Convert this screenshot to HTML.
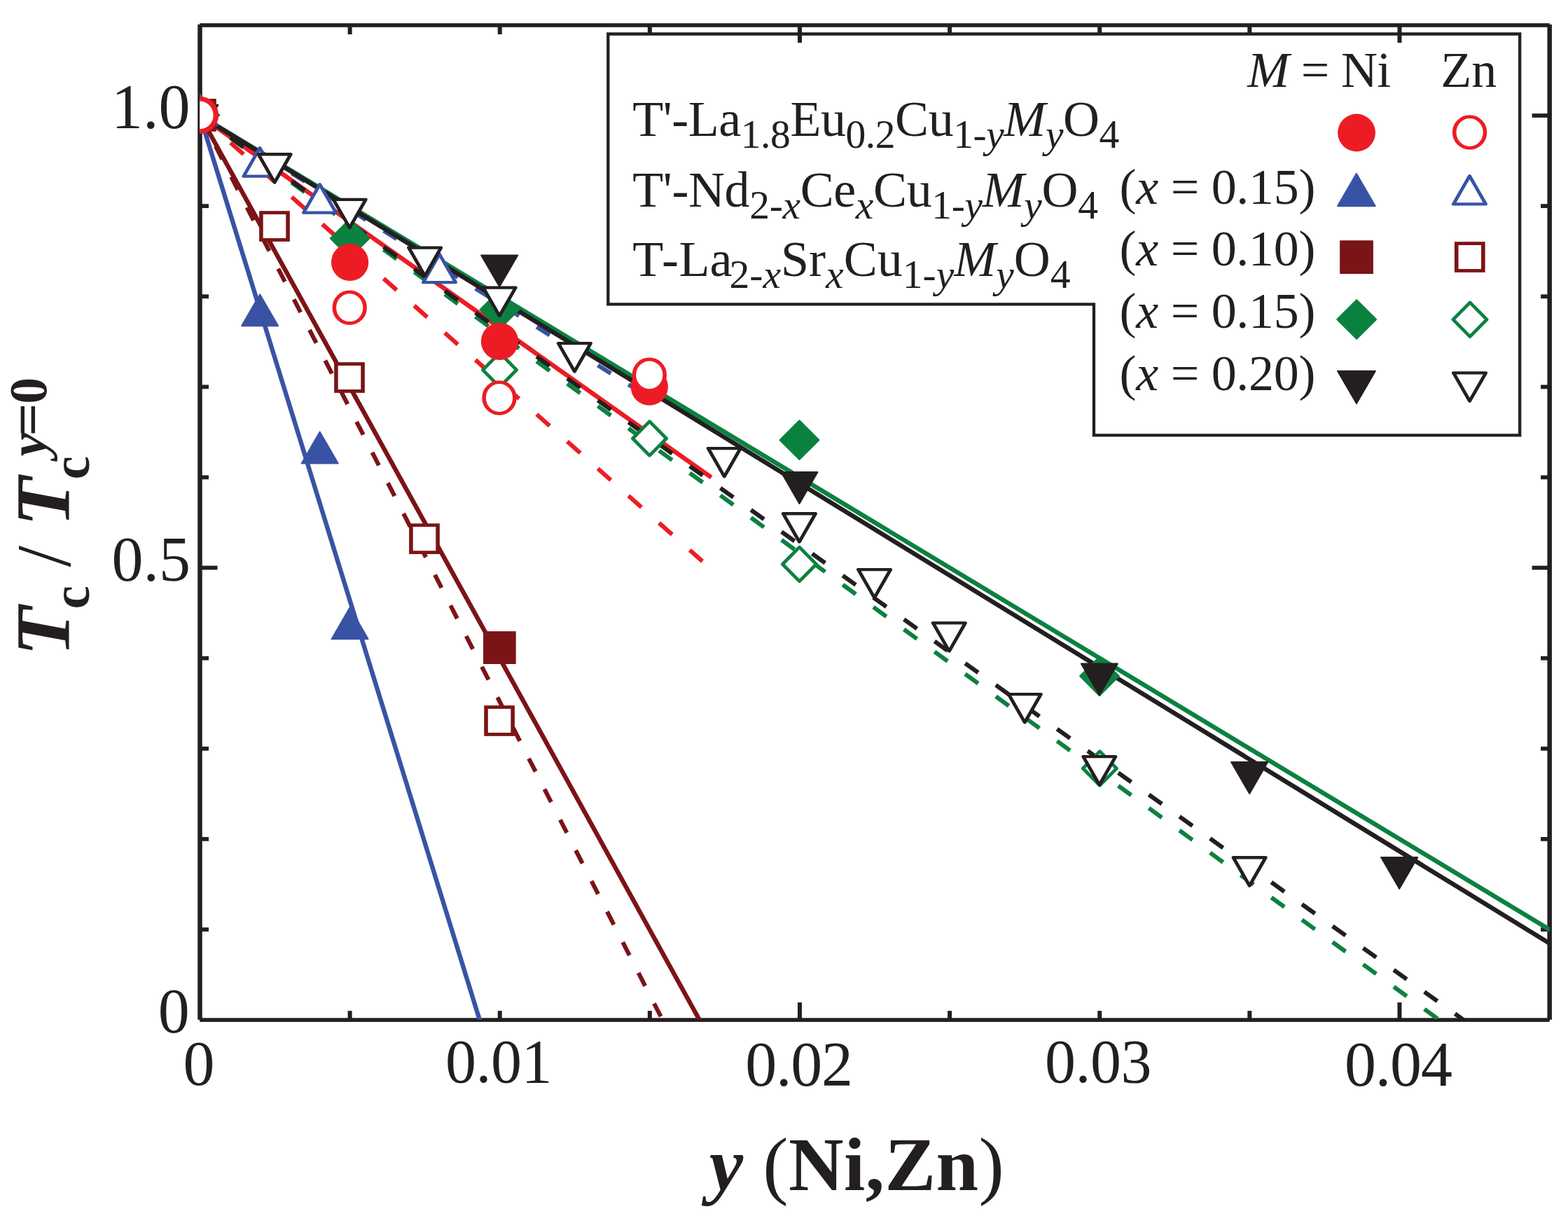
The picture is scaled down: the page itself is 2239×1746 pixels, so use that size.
<!DOCTYPE html>
<html lang="en"><head><meta charset="utf-8"><title>Tc / Tc(y=0) vs y (Ni,Zn)</title>
<style>html,body{margin:0;padding:0;background:#fff}svg{display:block}text{font-family:"Liberation Serif","Times New Roman",Times,serif;fill:#231f20}.tk{font-size:90px}.lg{font-size:72px}.ax{font-size:109px;font-weight:bold}.i{font-style:italic}.b{font-weight:bold}.n{font-weight:normal;font-style:normal}</style></head><body>
<svg width="2239" height="1746" viewBox="0 0 2239 1746">
<rect width="2239" height="1746" fill="#fff"/>
<defs><clipPath id="cp"><rect x="285.2" y="36.0" width="1927.6" height="1419.7"/></clipPath></defs>
<path d="M868.3 48.5H2170.2V621.4H1562V434.4H868.3Z" fill="none" stroke="#231f20" stroke-width="4.3" stroke-linejoin="miter"/>
<g id="frame">
<rect x="282.25" y="35.00" width="6.50" height="1420.80" fill="#231f20"/>
<rect x="2209.45" y="35.00" width="6.50" height="1420.80" fill="#231f20"/>
<rect x="285.20" y="33.20" width="1927.60" height="5.60" fill="#231f20"/>
<rect x="285.20" y="1453.30" width="1927.60" height="5.60" fill="#231f20"/>
<rect x="496.62" y="1443.10" width="6.00" height="13.00" fill="#231f20"/>
<rect x="496.62" y="36.00" width="6.00" height="13.00" fill="#231f20"/>
<rect x="710.74" y="1443.10" width="6.00" height="13.00" fill="#231f20"/>
<rect x="710.74" y="36.00" width="6.00" height="13.00" fill="#231f20"/>
<rect x="924.87" y="1443.10" width="6.00" height="13.00" fill="#231f20"/>
<rect x="924.87" y="36.00" width="6.00" height="13.00" fill="#231f20"/>
<rect x="1138.99" y="1431.10" width="6.00" height="25.00" fill="#231f20"/>
<rect x="1138.99" y="36.00" width="6.00" height="25.00" fill="#231f20"/>
<rect x="1353.11" y="1443.10" width="6.00" height="13.00" fill="#231f20"/>
<rect x="1353.11" y="36.00" width="6.00" height="13.00" fill="#231f20"/>
<rect x="1567.23" y="1443.10" width="6.00" height="13.00" fill="#231f20"/>
<rect x="1567.23" y="36.00" width="6.00" height="13.00" fill="#231f20"/>
<rect x="1781.36" y="1443.10" width="6.00" height="13.00" fill="#231f20"/>
<rect x="1781.36" y="36.00" width="6.00" height="13.00" fill="#231f20"/>
<rect x="1995.48" y="1431.10" width="6.00" height="25.00" fill="#231f20"/>
<rect x="1995.48" y="36.00" width="6.00" height="25.00" fill="#231f20"/>
<rect x="285.50" y="1324.09" width="12.50" height="5.80" fill="#231f20"/>
<rect x="2200.10" y="1324.09" width="12.50" height="5.80" fill="#231f20"/>
<rect x="285.50" y="1194.98" width="12.50" height="5.80" fill="#231f20"/>
<rect x="2200.10" y="1194.98" width="12.50" height="5.80" fill="#231f20"/>
<rect x="285.50" y="1065.87" width="12.50" height="5.80" fill="#231f20"/>
<rect x="2200.10" y="1065.87" width="12.50" height="5.80" fill="#231f20"/>
<rect x="285.50" y="936.76" width="12.50" height="5.80" fill="#231f20"/>
<rect x="2200.10" y="936.76" width="12.50" height="5.80" fill="#231f20"/>
<rect x="285.50" y="807.65" width="25.00" height="5.80" fill="#231f20"/>
<rect x="2187.60" y="807.65" width="25.00" height="5.80" fill="#231f20"/>
<rect x="285.50" y="678.54" width="12.50" height="5.80" fill="#231f20"/>
<rect x="2200.10" y="678.54" width="12.50" height="5.80" fill="#231f20"/>
<rect x="285.50" y="549.43" width="12.50" height="5.80" fill="#231f20"/>
<rect x="2200.10" y="549.43" width="12.50" height="5.80" fill="#231f20"/>
<rect x="285.50" y="420.32" width="12.50" height="5.80" fill="#231f20"/>
<rect x="2200.10" y="420.32" width="12.50" height="5.80" fill="#231f20"/>
<rect x="285.50" y="291.21" width="12.50" height="5.80" fill="#231f20"/>
<rect x="2200.10" y="291.21" width="12.50" height="5.80" fill="#231f20"/>
<rect x="285.50" y="162.10" width="25.00" height="5.80" fill="#231f20"/>
<rect x="2187.60" y="162.10" width="25.00" height="5.80" fill="#231f20"/>
</g>
<g id="lines" clip-path="url(#cp)" fill="none" stroke-linecap="butt">
<line x1="285.5" y1="165.0" x2="1015.7" y2="681.6" stroke="#ed1c24" stroke-width="6.4"/>
<path d="M285.5 165.0L304.1 181.5M329.2 203.8L347.8 220.3M372.9 242.5L391.5 259.0M416.6 281.3L435.2 297.8M460.3 320.1L478.9 336.6M504.1 358.9L522.6 375.4M547.8 397.6L566.4 414.1M591.5 436.4L610.1 452.9M635.2 475.2L653.8 491.7M678.9 513.9L697.5 530.4M722.6 552.7L741.2 569.2M766.3 591.5L784.9 608.0M810.0 630.2L828.6 646.7M853.7 669.0L872.3 685.5M897.4 707.8L916.0 724.3M941.1 746.6L959.8 763.1M984.9 785.3L1003.0 801.4" stroke="#ed1c24" stroke-width="6.1"/>
<line x1="285.4" y1="165.0" x2="687.9" y2="1465.8" stroke="#3953a4" stroke-width="6.4"/>
<path d="M285.5 165.0L304.1 176.7M329.2 192.4L347.8 204.1M372.9 219.8L391.5 231.5M416.6 247.3L435.2 258.9M460.3 274.7L478.9 286.3M504.1 302.1L522.6 313.8M547.8 329.5L566.4 341.2M591.5 356.9L610.1 368.6M635.2 384.4L653.8 396.0M678.9 411.8L697.5 423.4M722.6 439.2L741.2 450.9M766.3 466.6L784.9 478.3M810.0 494.0L828.6 505.7M853.7 521.5L872.3 533.1M897.4 548.9L916.0 560.5" stroke="#3953a4" stroke-width="6.1"/>
<line x1="285.5" y1="165.0" x2="1001.8" y2="1461.5" stroke="#7b1416" stroke-width="6.4"/>
<path d="M285.5 165.0L295.0 183.6M307.9 208.7L317.4 227.3M330.2 252.4L339.7 271.0M352.6 296.1L362.1 314.7M375.0 339.8L384.5 358.4M397.3 383.6L406.8 402.2M419.7 427.3L429.2 445.9M442.0 471.0L451.6 489.6M464.4 514.7L473.9 533.3M486.8 558.4L496.3 577.0M509.1 602.1L518.7 620.7M531.5 645.8L541.0 664.4M553.9 689.5L563.4 708.1M576.2 733.2L585.7 751.8M598.6 776.9L608.1 795.5M621.0 820.6L630.5 839.2M643.3 864.4L652.8 883.0M665.7 908.1L675.2 926.7M688.0 951.8L697.6 970.4M710.4 995.5L719.9 1014.1M732.8 1039.2L742.3 1057.8M755.1 1082.9L764.7 1101.5M777.5 1126.6L787.0 1145.2M799.9 1170.3L809.4 1188.9M822.2 1214.0L831.7 1232.6M844.6 1257.8L854.1 1276.3M867.0 1301.5L876.5 1320.1M889.3 1345.2L898.8 1363.8M911.7 1388.9L921.2 1407.5M934.0 1432.6L943.6 1451.2" stroke="#7b1416" stroke-width="6.1"/>
<line x1="285.5" y1="165.0" x2="2217.6" y2="1330.0" stroke="#0b8140" stroke-width="6.4"/>
<path d="M285.5 165.0L304.1 178.6M329.2 196.9L347.8 210.5M372.9 228.8L391.5 242.4M416.6 260.7L435.2 274.2M460.3 292.6L478.9 306.1M504.1 324.5L522.6 338.0M547.8 356.3L566.4 369.9M591.5 388.2L610.1 401.8M635.2 420.1L653.8 433.7M678.9 452.0L697.5 465.6M722.6 483.9L741.2 497.5M766.3 515.8L784.9 529.4M810.0 547.7L828.6 561.3M853.7 579.6L872.3 593.2M897.4 611.5L916.0 625.0M941.1 643.4L959.8 656.9M984.9 675.3L1003.5 688.8M1028.6 707.1L1047.2 720.7M1072.3 739.0L1090.9 752.6M1116.0 770.9L1134.6 784.5M1159.7 802.8L1178.3 816.4M1203.4 834.7L1222.0 848.3M1247.1 866.6L1265.7 880.2M1290.8 898.5L1309.4 912.1M1334.5 930.4L1353.1 944.0M1378.2 962.3L1396.8 975.8M1422.0 994.2L1440.6 1007.7M1465.7 1026.1L1484.3 1039.6M1509.4 1057.9L1528.0 1071.5M1553.1 1089.8L1571.7 1103.4M1596.8 1121.7L1615.4 1135.3M1640.5 1153.6L1659.1 1167.2M1684.2 1185.5L1702.8 1199.1M1727.9 1217.4L1746.5 1231.0M1771.6 1249.3L1790.2 1262.9M1815.4 1281.2L1834.0 1294.7M1859.1 1313.1L1877.7 1326.6M1902.8 1345.0L1921.4 1358.5M1946.5 1376.9L1965.1 1390.4M1990.2 1408.7L2008.8 1422.3M2033.9 1440.6L2052.5 1454.2" stroke="#0b8140" stroke-width="6.1"/>
<line x1="285.5" y1="165.0" x2="2217.6" y2="1349.7" stroke="#231f20" stroke-width="6.4"/>
<path d="M285.5 165.0L304.1 178.3M329.2 196.3L347.8 209.6M372.9 227.5L391.5 240.9M416.6 258.8L435.2 272.1M460.3 290.1L478.9 303.4M504.1 321.4L522.6 334.7M547.8 352.6L566.4 366.0M591.5 383.9L610.1 397.2M635.2 415.2L653.8 428.5M678.9 446.5L697.5 459.8M722.6 477.7L741.2 491.1M766.3 509.0L784.9 522.3M810.0 540.3L828.6 553.6M853.7 571.6L872.3 584.9M897.4 602.8L916.0 616.2M941.1 634.1L959.8 647.4M984.9 665.4L1003.5 678.7M1028.6 696.7L1047.2 710.0M1072.3 727.9L1090.9 741.2M1116.0 759.2L1134.6 772.5M1159.7 790.5L1178.3 803.8M1203.4 821.8L1222.0 835.1M1247.1 853.0L1265.7 866.3M1290.8 884.3L1309.4 897.6M1334.5 915.6L1353.1 928.9M1378.2 946.9L1396.8 960.2M1422.0 978.1L1440.6 991.4M1465.7 1009.4L1484.3 1022.7M1509.4 1040.7L1528.0 1054.0M1553.1 1072.0L1571.7 1085.3M1596.8 1103.2L1615.4 1116.5M1640.5 1134.5L1659.1 1147.8M1684.2 1165.8L1702.8 1179.1M1727.9 1197.1L1746.5 1210.4M1771.6 1228.3L1790.2 1241.6M1815.4 1259.6L1834.0 1272.9M1859.1 1290.9L1877.7 1304.2M1902.8 1322.2L1921.4 1335.5M1946.5 1353.4L1965.1 1366.7M1990.2 1384.7L2008.8 1398.0M2033.9 1416.0L2052.5 1429.3M2077.6 1447.3L2096.2 1460.6" stroke="#231f20" stroke-width="6.1"/>
</g>
<g id="markers" clip-path="url(#cp)">
<path d="M259.5 179.2L311.5 179.2L285.5 134.3Z" fill="#3953a4" stroke="#3953a4" stroke-width="2.0" stroke-linejoin="round"/>
<path d="M345.1 465.2L397.1 465.2L371.1 420.3Z" fill="#3953a4" stroke="#3953a4" stroke-width="2.0" stroke-linejoin="round"/>
<path d="M430.7 661.6L482.7 661.6L456.7 616.6Z" fill="#3953a4" stroke="#3953a4" stroke-width="2.0" stroke-linejoin="round"/>
<path d="M473.6 912.2L525.6 912.2L499.6 867.2Z" fill="#3953a4" stroke="#3953a4" stroke-width="2.0" stroke-linejoin="round"/>
<g transform="translate(285.50 157.70) scale(1.160 1)"><path d="M-19.92 20.15L19.92 20.15L0 -20.15Z" fill="#fff" stroke="#3953a4" stroke-width="4.30" stroke-linejoin="round"/></g>
<g transform="translate(371.00 231.45) scale(1.160 1)"><path d="M-19.92 20.15L19.92 20.15L0 -20.15Z" fill="#fff" stroke="#3953a4" stroke-width="4.30" stroke-linejoin="round"/></g>
<g transform="translate(456.60 283.45) scale(1.160 1)"><path d="M-19.92 20.15L19.92 20.15L0 -20.15Z" fill="#fff" stroke="#3953a4" stroke-width="4.30" stroke-linejoin="round"/></g>
<g transform="translate(627.50 383.00) scale(1.160 1)"><path d="M-19.92 20.15L19.92 20.15L0 -20.15Z" fill="#fff" stroke="#3953a4" stroke-width="4.30" stroke-linejoin="round"/></g>
<rect x="262.8" y="141.7" width="45.4" height="45.4" fill="#7b1416" stroke="#7b1416" stroke-width="1.2" stroke-linejoin="round"/>
<rect x="690.7" y="901.9" width="45.4" height="45.4" fill="#7b1416" stroke="#7b1416" stroke-width="1.2" stroke-linejoin="round"/>
<g transform="translate(285.50 164.40) scale(1.160 1)"><rect x="-16.44" y="-19.45" width="32.87" height="38.90" fill="#fff" stroke="#7b1416" stroke-width="4.80"/></g>
<g transform="translate(392.00 323.00) scale(1.160 1)"><rect x="-16.44" y="-19.45" width="32.87" height="38.90" fill="#fff" stroke="#7b1416" stroke-width="4.80"/></g>
<g transform="translate(499.00 539.00) scale(1.160 1)"><rect x="-16.44" y="-19.45" width="32.87" height="38.90" fill="#fff" stroke="#7b1416" stroke-width="4.80"/></g>
<g transform="translate(606.00 769.20) scale(1.160 1)"><rect x="-16.44" y="-19.45" width="32.87" height="38.90" fill="#fff" stroke="#7b1416" stroke-width="4.80"/></g>
<g transform="translate(713.10 1029.00) scale(1.160 1)"><rect x="-16.44" y="-19.45" width="32.87" height="38.90" fill="#fff" stroke="#7b1416" stroke-width="4.80"/></g>
<path d="M285.5 136.5L313.4 164.4L285.5 192.3L257.6 164.4Z" fill="#0b8140" stroke="#0b8140" stroke-width="2" stroke-linejoin="round"/>
<path d="M499.6 312.5L527.5 340.4L499.6 368.3L471.7 340.4Z" fill="#0b8140" stroke="#0b8140" stroke-width="2" stroke-linejoin="round"/>
<path d="M713.4 414.1L741.3 442.0L713.4 469.9L685.5 442.0Z" fill="#0b8140" stroke="#0b8140" stroke-width="2" stroke-linejoin="round"/>
<path d="M1141.5 600.3L1169.4 628.2L1141.5 656.1L1113.6 628.2Z" fill="#0b8140" stroke="#0b8140" stroke-width="2" stroke-linejoin="round"/>
<path d="M1570.0 937.4L1597.9 965.3L1570.0 993.2L1542.1 965.3Z" fill="#0b8140" stroke="#0b8140" stroke-width="2" stroke-linejoin="round"/>
<g transform="translate(285.50 164.40) scale(1.160 1)"><path d="M0 -24.40L20.73 0L0 24.40L-20.73 0Z" fill="#fff" stroke="#0b8140" stroke-width="4.40" stroke-linejoin="round"/></g>
<g transform="translate(713.50 528.10) scale(1.160 1)"><path d="M0 -24.40L20.73 0L0 24.40L-20.73 0Z" fill="#fff" stroke="#0b8140" stroke-width="4.40" stroke-linejoin="round"/></g>
<g transform="translate(927.50 626.00) scale(1.160 1)"><path d="M0 -24.40L20.73 0L0 24.40L-20.73 0Z" fill="#fff" stroke="#0b8140" stroke-width="4.40" stroke-linejoin="round"/></g>
<g transform="translate(1141.50 805.50) scale(1.160 1)"><path d="M0 -24.40L20.73 0L0 24.40L-20.73 0Z" fill="#fff" stroke="#0b8140" stroke-width="4.40" stroke-linejoin="round"/></g>
<g transform="translate(1570.40 1097.00) scale(1.160 1)"><path d="M0 -24.40L20.73 0L0 24.40L-20.73 0Z" fill="#fff" stroke="#0b8140" stroke-width="4.40" stroke-linejoin="round"/></g>
<path d="M259.5 149.7L311.5 149.7L285.5 194.5Z" fill="#231f20" stroke="#231f20" stroke-width="2.0" stroke-linejoin="round"/>
<path d="M687.2 364.4L739.2 364.4L713.2 409.2Z" fill="#231f20" stroke="#231f20" stroke-width="2.0" stroke-linejoin="round"/>
<path d="M1115.5 674.0L1167.5 674.0L1141.5 719.0Z" fill="#231f20" stroke="#231f20" stroke-width="2.0" stroke-linejoin="round"/>
<path d="M1543.9 947.6L1595.9 947.6L1569.9 992.6Z" fill="#231f20" stroke="#231f20" stroke-width="2.0" stroke-linejoin="round"/>
<path d="M1758.2 1088.1L1810.2 1088.1L1784.2 1133.0Z" fill="#231f20" stroke="#231f20" stroke-width="2.0" stroke-linejoin="round"/>
<path d="M1972.2 1223.9L2024.2 1223.9L1998.2 1268.8Z" fill="#231f20" stroke="#231f20" stroke-width="2.0" stroke-linejoin="round"/>
<g transform="translate(285.50 171.10) scale(1.160 1)"><path d="M-19.92 -20.15L19.92 -20.15L0 20.15Z" fill="#fff" stroke="#231f20" stroke-width="4.30" stroke-linejoin="round"/></g>
<g transform="translate(392.10 240.40) scale(1.160 1)"><path d="M-19.92 -20.15L19.92 -20.15L0 20.15Z" fill="#fff" stroke="#231f20" stroke-width="4.30" stroke-linejoin="round"/></g>
<g transform="translate(499.20 305.00) scale(1.160 1)"><path d="M-19.92 -20.15L19.92 -20.15L0 20.15Z" fill="#fff" stroke="#231f20" stroke-width="4.30" stroke-linejoin="round"/></g>
<g transform="translate(606.70 373.70) scale(1.160 1)"><path d="M-19.92 -20.15L19.92 -20.15L0 20.15Z" fill="#fff" stroke="#231f20" stroke-width="4.30" stroke-linejoin="round"/></g>
<g transform="translate(713.20 430.75) scale(1.160 1)"><path d="M-19.92 -20.15L19.92 -20.15L0 20.15Z" fill="#fff" stroke="#231f20" stroke-width="4.30" stroke-linejoin="round"/></g>
<g transform="translate(820.40 510.25) scale(1.160 1)"><path d="M-19.92 -20.15L19.92 -20.15L0 20.15Z" fill="#fff" stroke="#231f20" stroke-width="4.30" stroke-linejoin="round"/></g>
<g transform="translate(1034.30 660.20) scale(1.160 1)"><path d="M-19.92 -20.15L19.92 -20.15L0 20.15Z" fill="#fff" stroke="#231f20" stroke-width="4.30" stroke-linejoin="round"/></g>
<g transform="translate(1141.40 753.40) scale(1.160 1)"><path d="M-19.92 -20.15L19.92 -20.15L0 20.15Z" fill="#fff" stroke="#231f20" stroke-width="4.30" stroke-linejoin="round"/></g>
<g transform="translate(1248.60 833.20) scale(1.160 1)"><path d="M-19.92 -20.15L19.92 -20.15L0 20.15Z" fill="#fff" stroke="#231f20" stroke-width="4.30" stroke-linejoin="round"/></g>
<g transform="translate(1355.40 909.45) scale(1.160 1)"><path d="M-19.92 -20.15L19.92 -20.15L0 20.15Z" fill="#fff" stroke="#231f20" stroke-width="4.30" stroke-linejoin="round"/></g>
<g transform="translate(1463.30 1011.20) scale(1.160 1)"><path d="M-19.92 -20.15L19.92 -20.15L0 20.15Z" fill="#fff" stroke="#231f20" stroke-width="4.30" stroke-linejoin="round"/></g>
<g transform="translate(1569.90 1100.30) scale(1.160 1)"><path d="M-19.92 -20.15L19.92 -20.15L0 20.15Z" fill="#fff" stroke="#231f20" stroke-width="4.30" stroke-linejoin="round"/></g>
<g transform="translate(1784.20 1244.40) scale(1.160 1)"><path d="M-19.92 -20.15L19.92 -20.15L0 20.15Z" fill="#fff" stroke="#231f20" stroke-width="4.30" stroke-linejoin="round"/></g>
<circle cx="285.5" cy="164.4" r="26.65" fill="#ed1c24"/>
<circle cx="499.6" cy="374.4" r="26.65" fill="#ed1c24"/>
<circle cx="713.5" cy="487.4" r="26.65" fill="#ed1c24"/>
<circle cx="927.3" cy="552.2" r="26.65" fill="#ed1c24"/>
<g transform="translate(285.50 164.40) scale(1.160 1)"><ellipse rx="18.89" ry="22.30" fill="#fff" stroke="#ed1c24" stroke-width="4.80"/></g>
<g transform="translate(499.20 439.20) scale(1.160 1)"><ellipse rx="18.89" ry="22.30" fill="#fff" stroke="#ed1c24" stroke-width="4.80"/></g>
<g transform="translate(713.00 568.00) scale(1.160 1)"><ellipse rx="18.89" ry="22.30" fill="#fff" stroke="#ed1c24" stroke-width="4.80"/></g>
<g transform="translate(927.30 535.30) scale(1.160 1)"><ellipse rx="18.89" ry="22.30" fill="#fff" stroke="#ed1c24" stroke-width="4.80"/></g>
</g>
<g id="legend-markers">
<circle cx="1937.1" cy="189.5" r="26.92" fill="#ed1c24"/>
<g transform="translate(2098.60 189.00) scale(1.160 1)"><ellipse rx="18.89" ry="22.30" fill="#fff" stroke="#ed1c24" stroke-width="4.80"/></g>
<path d="M1910.0 294.2L1963.8 294.2L1936.9 247.8Z" fill="#3953a4" stroke="#3953a4" stroke-width="2.0" stroke-linejoin="round"/>
<g transform="translate(2098.50 271.30) scale(1.160 1)"><path d="M-19.92 20.15L19.92 20.15L0 -20.15Z" fill="#fff" stroke="#3953a4" stroke-width="4.30" stroke-linejoin="round"/></g>
<rect x="1913.8" y="343.8" width="46.5" height="46.5" fill="#7b1416" stroke="#7b1416" stroke-width="1.2" stroke-linejoin="round"/>
<g transform="translate(2098.80 367.00) scale(1.160 1)"><rect x="-16.44" y="-19.45" width="32.87" height="38.90" fill="#fff" stroke="#7b1416" stroke-width="4.80"/></g>
<path d="M1937.2 428.1L1965.1 456.0L1937.2 483.9L1909.3 456.0Z" fill="#0b8140" stroke="#0b8140" stroke-width="2" stroke-linejoin="round"/>
<g transform="translate(2099.00 456.20) scale(1.160 1)"><path d="M0 -24.40L20.73 0L0 24.40L-20.73 0Z" fill="#fff" stroke="#0b8140" stroke-width="4.40" stroke-linejoin="round"/></g>
<path d="M1910.1 529.7L1963.9 529.7L1937.0 576.1Z" fill="#231f20" stroke="#231f20" stroke-width="2.0" stroke-linejoin="round"/>
<g transform="translate(2098.60 552.50) scale(1.160 1)"><path d="M-19.92 -20.15L19.92 -20.15L0 20.15Z" fill="#fff" stroke="#231f20" stroke-width="4.30" stroke-linejoin="round"/></g>
</g>
<g id="labels">
<text id="ty10" class="tk" x="159.00" y="183.20">1.0</text>
<text id="ty05" class="tk" x="159.40" y="828.60">0.5</text>
<text id="ty0" class="tk" x="225.80" y="1474.20">0</text>
<text id="tx0" class="tk" x="261.60" y="1549.40">0</text>
<text id="tx1" class="tk" x="636.00" y="1544.60" style="font-size:88px;letter-spacing:-0.5px">0.01</text>
<text id="tx2" class="tk" x="1064.20" y="1549.80" style="letter-spacing:-1.2px">0.02</text>
<text id="tx3" class="tk" x="1492.00" y="1544.60" style="font-size:88px;letter-spacing:-0.5px">0.03</text>
<text id="tx4" class="tk" x="1920.00" y="1549.80" style="letter-spacing:-1.2px">0.04</text>
<text id="lgM" class="lg" x="1781.20" y="123.50" style="letter-spacing:-0.7px"><tspan class="i">M</tspan> = Ni</text>
<text id="lgZn" class="lg" x="2057.30" y="123.50">Zn</text>
<text id="f1" class="lg" x="903.20" y="193.80" style="letter-spacing:-0.46px"><tspan>T'-La</tspan><tspan dy="17" font-size="57.6">1.8</tspan><tspan dy="-17">Eu</tspan><tspan dy="17" font-size="57.6">0.2</tspan><tspan dy="-17">Cu</tspan><tspan dy="17" font-size="57.6">1-</tspan><tspan font-size="57.6" class="i">y</tspan><tspan dy="-17" class="i">M</tspan><tspan dy="17" font-size="57.6" class="i">y</tspan><tspan dy="-17">O</tspan><tspan dy="17" font-size="57.6">4</tspan></text>
<text id="f2" class="lg" x="903.20" y="295.00" style="letter-spacing:-0.38px"><tspan>T'-Nd</tspan><tspan dy="17" font-size="57.6">2-</tspan><tspan font-size="57.6" class="i">x</tspan><tspan dy="-17">Ce</tspan><tspan dy="17" font-size="57.6" class="i">x</tspan><tspan dy="-17">Cu</tspan><tspan dy="17" font-size="57.6">1-</tspan><tspan font-size="57.6" class="i">y</tspan><tspan dy="-17" class="i">M</tspan><tspan dy="17" font-size="57.6" class="i">y</tspan><tspan dy="-17">O</tspan><tspan dy="17" font-size="57.6">4</tspan></text>
<text id="f3" class="lg" x="903.20" y="394.20"><tspan>T</tspan><tspan dx="4.5">-</tspan><tspan dx="0.5">La</tspan><tspan dx="-4.0" dy="17" font-size="57.6">2-</tspan><tspan font-size="57.6" class="i">x</tspan><tspan dy="-17">Sr</tspan><tspan dy="17" font-size="57.6" class="i">x</tspan><tspan dy="-17">Cu</tspan><tspan dy="17" font-size="57.6">1-</tspan><tspan font-size="57.6" class="i">y</tspan><tspan dy="-17" class="i">M</tspan><tspan dy="17" font-size="57.6" class="i">y</tspan><tspan dy="-17">O</tspan><tspan dy="17" font-size="57.6">4</tspan></text>
<text id="px0" class="lg" x="1598.60" y="290.50" style="letter-spacing:-0.3px">(<tspan class="i">x</tspan> = 0.15)</text>
<text id="px1" class="lg" x="1598.60" y="378.70" style="letter-spacing:-0.3px">(<tspan class="i">x</tspan> = 0.10)</text>
<text id="px2" class="lg" x="1598.60" y="468.10" style="letter-spacing:-0.3px">(<tspan class="i">x</tspan> = 0.15)</text>
<text id="px3" class="lg" x="1598.60" y="557.40" style="letter-spacing:-0.3px">(<tspan class="i">x</tspan> = 0.20)</text>
<text id="xt" class="ax" x="1012.80" y="1699.00" style="letter-spacing:0.4px"><tspan class="i">y</tspan> <tspan class="n">(</tspan>Ni,Zn<tspan class="n">)</tspan></text>
<text id="ytitle" transform="rotate(-90)"><tspan id="yT1" class="i" style="font-size:110px;font-weight:bold" x="-936.80" y="99.00" textLength="70.91" lengthAdjust="spacingAndGlyphs">T</tspan><tspan id="yc1" class="n" style="font-size:75.5px;font-weight:bold" x="-869.60" y="126.50">c</tspan> <tspan id="ysl" class="n" style="font-size:110px;font-weight:normal" x="-809.60" y="99.60">/</tspan> <tspan id="yT2" class="i" style="font-size:110px;font-weight:bold" x="-751.80" y="99.00" textLength="70.91" lengthAdjust="spacingAndGlyphs">T</tspan><tspan id="yc2" class="n" style="font-size:75.5px;font-weight:bold" x="-684.60" y="126.50">c</tspan> <tspan id="yy" class="i" style="font-size:75.5px;font-weight:bold" x="-651.40" y="66.10">y</tspan><tspan id="yeq" class="n" style="font-size:75.5px;font-weight:bold" x="-622.80" y="65.30" textLength="47.34" lengthAdjust="spacingAndGlyphs">=</tspan><tspan id="y0" class="n" style="font-size:75.5px;font-weight:bold" x="-576.60" y="66.30">0</tspan></text>
</g>
</svg></body></html>
